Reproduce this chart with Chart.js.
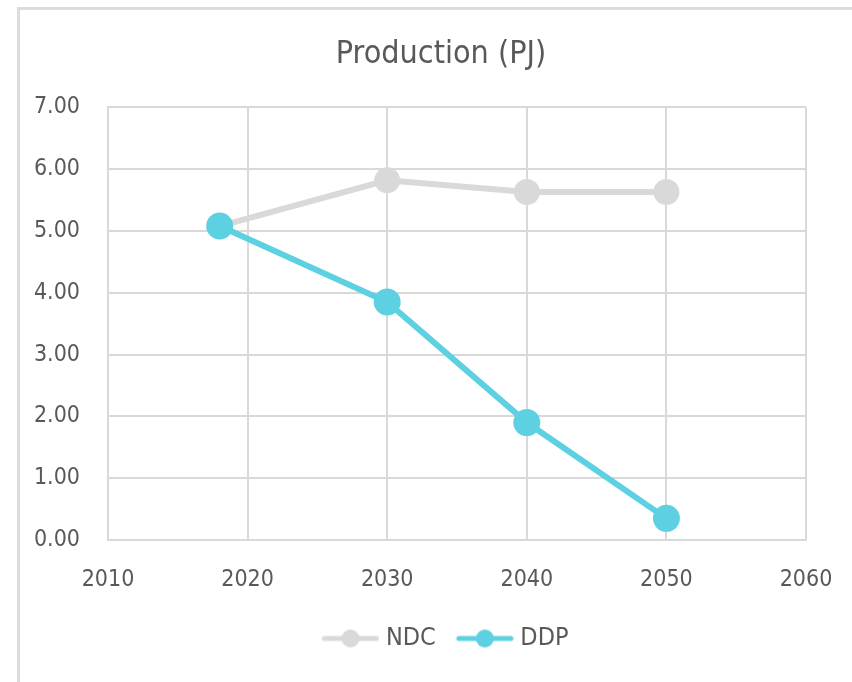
<!DOCTYPE html>
<html>
<head>
<meta charset="utf-8">
<script src="https://cdn.jsdelivr.net/npm/chart.js@4/dist/chart.umd.min.js"></script>
<style>
  html, body { margin: 0; padding: 0; background: #ffffff; }
  #frame {
    position: absolute; left: 17px; top: 7px; width: 835px; height: 675px;
    border-left: 3px solid #dcdcdc; border-top: 3px solid #dcdcdc;
    box-sizing: border-box;
  }
  #wrap { position: absolute; left: 0; top: 0; width: 852px; height: 682px; }
</style>
</head>
<body>
<div id="frame"></div>
<div id="wrap"><canvas id="chart" width="852" height="682"></canvas></div>
<script>
// Production in PJ per scenario year
const years = [2018, 2030, 2040, 2050];
const ndcValues = [5.08, 5.82, 5.63, 5.63];
const ddpValues = [5.08, 3.85, 1.90, 0.35];
const seriesNames = ['NDC', 'DDP'];
const xTicks = [2010, 2020, 2030, 2040, 2050, 2060];
const yTicks = [0, 1, 2, 3, 4, 5, 6, 7];

const FONT = "'Liberation Sans Narrow', 'DejaVu Sans Condensed', 'Roboto', sans-serif";
const TEXT = '#595959';
const GRID = '#d9d9d9';
const NDC_COLOR = '#d9d9d9';
const DDP_COLOR = '#5dd0e2';

// legend marker: short line with a dot in the middle
function legendMarker(color) {
  const c = document.createElement('canvas');
  c.width = 58; c.height = 22;
  const g = c.getContext('2d');
  g.strokeStyle = color; g.lineWidth = 5; g.lineCap = 'round';
  g.beginPath(); g.moveTo(3, 11); g.lineTo(55, 11); g.stroke();
  g.fillStyle = color;
  g.beginPath(); g.arc(29, 11, 9, 0, Math.PI * 2); g.fill();
  return c;
}
const markers = [legendMarker(NDC_COLOR), legendMarker(DDP_COLOR)];

const toPoints = vals => years.map((y, i) => ({ x: y, y: vals[i] }));

// centre the title and legend over the band that starts at the tick labels
const centreBlocks = {
  id: 'centreBlocks',
  afterLayout(chart) {
    const t = chart.titleBlock;
    if (t) { t.left = 76; t.right = chart.chartArea.right; t.width = t.right - t.left; }
    const l = chart.legend;
    if (l) { l.left = 90; l.right = chart.chartArea.right; l.width = l.right - l.left; }
  }
};

new Chart(document.getElementById('chart'), {
  type: 'line',
  data: {
    datasets: [
      {
        label: seriesNames[0], data: toPoints(ndcValues), order: 1,
        borderColor: NDC_COLOR, backgroundColor: NDC_COLOR,
        borderWidth: 6, pointRadius: 13, pointHoverRadius: 13, pointBorderWidth: 0
      },
      {
        label: seriesNames[1], data: toPoints(ddpValues), order: 0,
        borderColor: DDP_COLOR, backgroundColor: DDP_COLOR,
        borderWidth: 6, pointRadius: 13.5, pointHoverRadius: 13.5, pointBorderWidth: 0
      }
    ]
  },
  plugins: [centreBlocks],
  options: {
    responsive: false,
    animation: false,
    events: [],
    layout: { padding: { left: 0, right: 46, top: 0, bottom: 21 } },
    scales: {
      x: {
        type: 'linear', min: xTicks[0], max: xTicks[xTicks.length - 1],
        afterBuildTicks: s => { s.ticks = xTicks.map(v => ({ value: v })); },
        afterFit: s => { s.height = 60; s.paddingRight = 0; s.paddingLeft = 0; },
        grid: { color: GRID, lineWidth: 2, drawTicks: false },
        border: { color: GRID, width: 2 },
        ticks: { color: TEXT, padding: 26, font: { family: FONT, size: 23 }, callback: v => String(v) }
      },
      y: {
        min: yTicks[0], max: yTicks[yTicks.length - 1],
        afterBuildTicks: s => { s.ticks = yTicks.map(v => ({ value: v })); },
        afterFit: s => { s.width = 108; },
        grid: { color: GRID, lineWidth: 2, drawTicks: false },
        border: { color: GRID, width: 2 },
        ticks: { color: TEXT, padding: 28, font: { family: FONT, size: 23 }, callback: v => v.toFixed(2) }
      }
    },
    plugins: {
      title: {
        display: true, text: 'Production (PJ)', color: TEXT,
        font: { family: FONT, size: 32, weight: 'normal' },
        padding: { top: 35, bottom: 34 }
      },
      legend: {
        position: 'bottom',
        labels: {
          color: TEXT, font: { family: FONT, size: 25 },
          usePointStyle: true, pointStyleWidth: 46, boxHeight: 22, padding: 26,
          generateLabels: chart => chart.data.datasets.map((ds, i) => ({
            text: ds.label, pointStyle: markers[i], datasetIndex: i,
            fillStyle: ds.backgroundColor, strokeStyle: ds.borderColor, lineWidth: 0,
            fontColor: TEXT
          }))
        }
      },
      tooltip: { enabled: false }
    }
  }
});
</script>
</body>
</html>
